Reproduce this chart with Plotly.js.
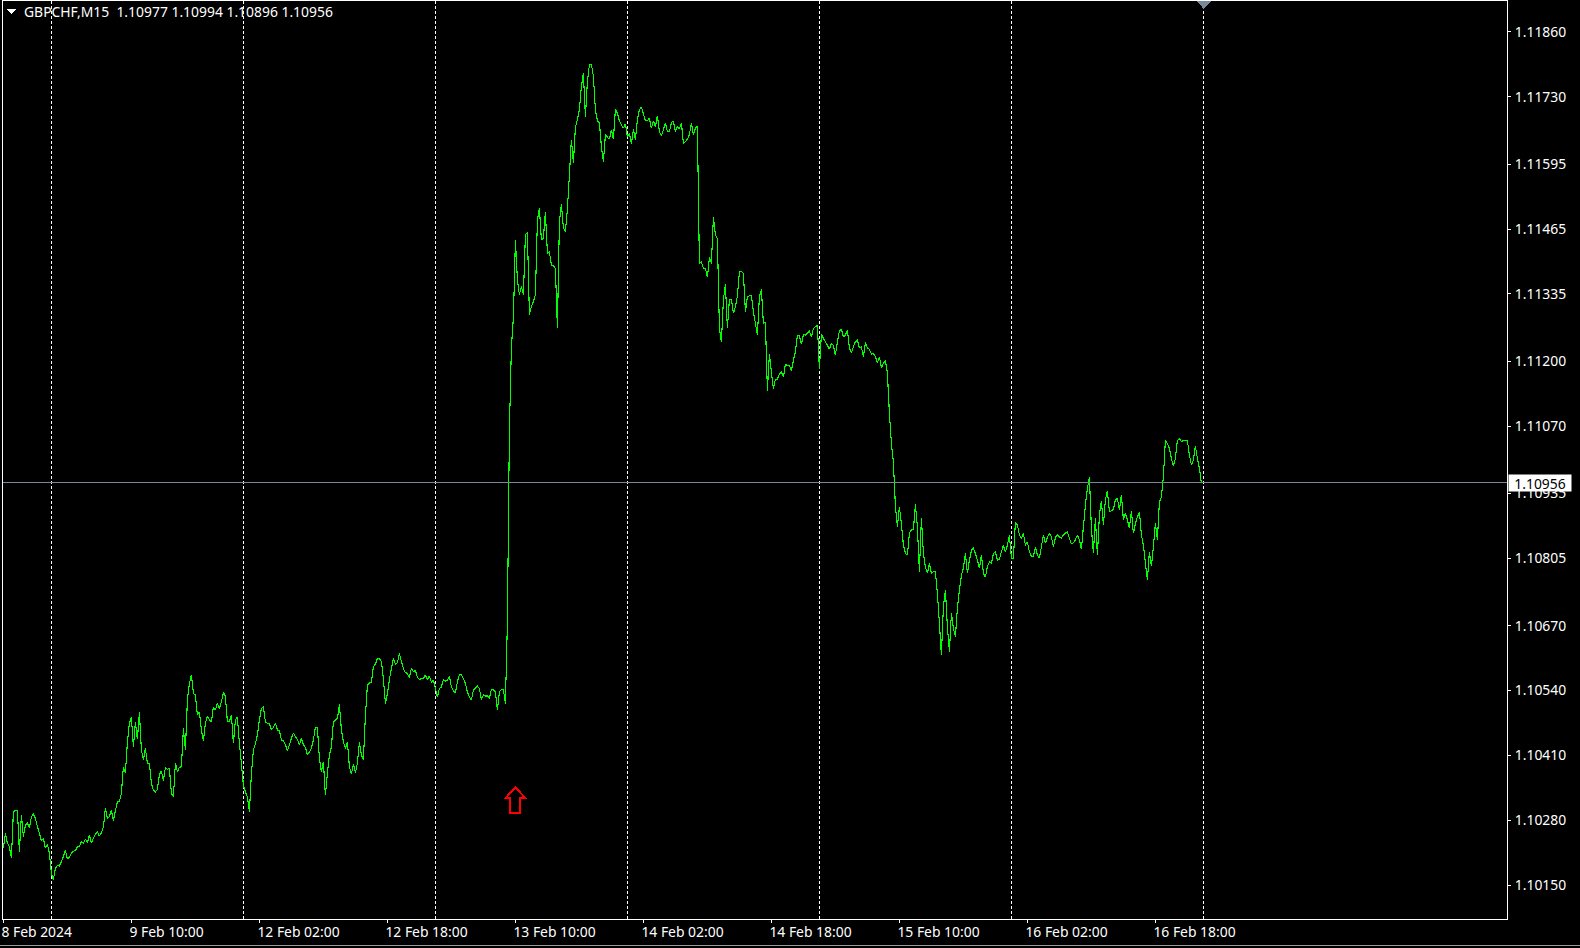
<!DOCTYPE html>
<html>
<head>
<meta charset="utf-8">
<title>GBPCHF,M15</title>
<script src="https://cdn.plot.ly/plotly-3.0.1.min.js"></script>
<style>
html,body{margin:0;padding:0;background:#000;overflow:hidden}
#chart{width:1580px;height:948px}
.crispLines path.js-line,.crispLines .shapelayer path,.crispLines path.crisp{shape-rendering:crispEdges}
</style>
</head>
<body>
<div id="chart" class="crispLines"></div>
<script>
const headerText = "GBPCHF,M15  1.10977 1.10994 1.10896 1.10956";
const bidPrice = 1.10956;
const bidLabel = "1.10956";
const priceTickLabels = ["1.11860","1.11730","1.11595","1.11465","1.11335","1.11200","1.11070","1.10935","1.10805","1.10670","1.10540","1.10410","1.10280","1.10150"];
const timeTickBars = [0,64,128,192,256,320,384,448,512,576];
const timeTickLabels = ["8 Feb 2024","9 Feb 10:00","12 Feb 02:00","12 Feb 18:00","13 Feb 10:00","14 Feb 02:00","14 Feb 18:00","15 Feb 10:00","16 Feb 02:00","16 Feb 18:00"];
const daySeparatorBars = [24,120,216,312,408,504,600];
const arrowBar = 256;
const arrowPrice = 1.10346;
const closes8Feb = [1.10224,1.10254,1.10234,1.10227,1.10204,1.10297,1.10300,1.10300,1.10217,1.10290,1.10247,1.10270,1.10275,1.10264,1.10287,1.10292,1.10284,1.10267,1.10254,1.10238,1.10244,1.10224,1.10232,1.10214];
const closes9Feb = [1.10173,1.10161,1.10184,1.10189,1.10188,1.10197,1.10207,1.10220,1.10202,1.10206,1.10214,1.10218,1.10219,1.10227,1.10228,1.10237,1.10234,1.10242,1.10235,1.10250,1.10234,1.10244,1.10252,1.10257,1.10248,1.10255,1.10266,1.10304,1.10284,1.10287,1.10300,1.10279,1.10299,1.10317,1.10317,1.10334,1.10387,1.10374,1.10437,1.10474,1.10487,1.10426,1.10477,1.10442,1.10496,1.10421,1.10401,1.10424,1.10394,1.10394,1.10354,1.10340,1.10337,1.10342,1.10371,1.10379,1.10359,1.10386,1.10382,1.10384,1.10334,1.10327,1.10395,1.10377,1.10386,1.10387,1.10464,1.10421,1.10521,1.10554,1.10571,1.10534,1.10531,1.10491,1.10497,1.10461,1.10439,1.10474,1.10489,1.10481,1.10477,1.10507,1.10501,1.10514,1.10504,1.10517,1.10536,1.10528,1.10477,1.10477,1.10491,1.10434,1.10481,1.10487,1.10434,1.10394];
const closes12Feb = [1.10350,1.10337,1.10327,1.10297,1.10374,1.10421,1.10433,1.10451,1.10481,1.10504,1.10507,1.10477,1.10474,1.10474,1.10461,1.10466,1.10475,1.10461,1.10459,1.10441,1.10439,1.10431,1.10419,1.10431,1.10444,1.10455,1.10447,1.10442,1.10431,1.10444,1.10431,1.10426,1.10411,1.10417,1.10424,1.10441,1.10466,1.10466,1.10404,1.10377,1.10397,1.10330,1.10374,1.10411,1.10427,1.10477,1.10481,1.10484,1.10512,1.10461,1.10437,1.10424,1.10437,1.10387,1.10372,1.10393,1.10375,1.10394,1.10436,1.10411,1.10401,1.10489,1.10551,1.10555,1.10557,1.10588,1.10593,1.10604,1.10604,1.10598,1.10564,1.10514,1.10534,1.10562,1.10584,1.10604,1.10593,1.10596,1.10614,1.10598,1.10584,1.10576,1.10574,1.10566,1.10584,1.10578,1.10580,1.10566,1.10562,1.10564,1.10564,1.10571,1.10562,1.10569,1.10557,1.10561];
const closes13Feb = [1.10544,1.10527,1.10544,1.10547,1.10562,1.10559,1.10561,1.10569,1.10547,1.10539,1.10536,1.10557,1.10572,1.10571,1.10564,1.10554,1.10537,1.10527,1.10521,1.10541,1.10544,1.10549,1.10544,1.10522,1.10531,1.10529,1.10529,1.10524,1.10542,1.10541,1.10537,1.10502,1.10537,1.10542,1.10541,1.10514,1.10677,1.11062,1.11228,1.11288,1.11443,1.11363,1.11333,1.11350,1.11333,1.11453,1.11458,1.11293,1.11310,1.11320,1.11333,1.11483,1.11507,1.11443,1.11447,1.11499,1.11417,1.11419,1.11393,1.11391,1.11386,1.11266,1.11478,1.11515,1.11467,1.11460,1.11505,1.11573,1.11644,1.11597,1.11669,1.11684,1.11704,1.11751,1.11777,1.11690,1.11761,1.11794,1.11795,1.11771,1.11704,1.11682,1.11678,1.11630,1.11600,1.11654,1.11649,1.11645,1.11664,1.11645,1.11705,1.11697,1.11682,1.11674,1.11667,1.11676];
const closes14Feb = [1.11650,1.11657,1.11635,1.11665,1.11644,1.11684,1.11704,1.11710,1.11696,1.11682,1.11682,1.11687,1.11667,1.11682,1.11670,1.11692,1.11660,1.11652,1.11664,1.11678,1.11660,1.11660,1.11678,1.11682,1.11660,1.11670,1.11665,1.11678,1.11637,1.11640,1.11645,1.11654,1.11677,1.11654,1.11667,1.11672,1.11396,1.11399,1.11386,1.11386,1.11368,1.11408,1.11396,1.11488,1.11453,1.11446,1.11266,1.11239,1.11323,1.11355,1.11266,1.11324,1.11324,1.11296,1.11309,1.11331,1.11379,1.11380,1.11376,1.11299,1.11329,1.11331,1.11331,1.11299,1.11276,1.11252,1.11329,1.11344,1.11276,1.11279,1.11141,1.11214,1.11179,1.11144,1.11164,1.11164,1.11174,1.11178,1.11168,1.11194,1.11191,1.11192,1.11181,1.11202,1.11219,1.11252,1.11251,1.11234,1.11254,1.11252,1.11256,1.11260,1.11248,1.11266,1.11269,1.11272];
const closes15Feb = [1.11184,1.11254,1.11246,1.11239,1.11232,1.11224,1.11236,1.11231,1.11212,1.11239,1.11261,1.11264,1.11249,1.11252,1.11262,1.11226,1.11217,1.11229,1.11239,1.11242,1.11227,1.11229,1.11208,1.11238,1.11226,1.11224,1.11214,1.11216,1.11209,1.11196,1.11209,1.11187,1.11196,1.11202,1.11176,1.11096,1.11035,1.10998,1.10910,1.10868,1.10908,1.10875,1.10831,1.10815,1.10811,1.10855,1.10862,1.10862,1.10913,1.10868,1.10778,1.10886,1.10815,1.10788,1.10775,1.10795,1.10775,1.10778,1.10778,1.10735,1.10675,1.10611,1.10708,1.10741,1.10668,1.10618,1.10695,1.10664,1.10648,1.10705,1.10741,1.10771,1.10785,1.10815,1.10775,1.10801,1.10821,1.10825,1.10815,1.10801,1.10785,1.10811,1.10775,1.10767,1.10788,1.10798,1.10795,1.10815,1.10818,1.10801,1.10803,1.10818,1.10831,1.10818,1.10831,1.10852];
const closes16Feb = [1.10805,1.10805,1.10877,1.10872,1.10852,1.10845,1.10855,1.10831,1.10838,1.10818,1.10809,1.10809,1.10827,1.10811,1.10805,1.10828,1.10852,1.10835,1.10847,1.10855,1.10848,1.10828,1.10847,1.10852,1.10848,1.10845,1.10852,1.10856,1.10858,1.10845,1.10834,1.10836,1.10842,1.10852,1.10842,1.10823,1.10868,1.10912,1.10945,1.10968,1.10865,1.10816,1.10885,1.10811,1.10892,1.10920,1.10872,1.10922,1.10940,1.10898,1.10900,1.10903,1.10922,1.10925,1.10902,1.10932,1.10882,1.10895,1.10882,1.10865,1.10900,1.10855,1.10875,1.10888,1.10898,1.10852,1.10831,1.10795,1.10761,1.10818,1.10789,1.10828,1.10875,1.10842,1.10918,1.10928,1.10968,1.11042,1.11035,1.11025,1.11005,1.10990,1.11005,1.11041,1.11045,1.11039,1.11041,1.11041,1.11041,1.11012,1.10992,1.11002,1.11030,1.11005,1.10985,1.10956];

const closes = [].concat(closes8Feb,closes9Feb,closes12Feb,closes13Feb,closes14Feb,closes15Feb,closes16Feb);
const bars = closes.map((_,i)=>i);

const W=1580,H=948,L=3,R=73,T=1,B=29;
const plotW=W-L-R, plotH=H-T-B;
const font={family:'"Noto Sans",sans-serif',size:13.9,color:'#ffffff'};

const shapes=[];
daySeparatorBars.forEach(b=>shapes.push({type:'line',layer:'below',xref:'x',yref:'paper',x0:b,x1:b,y0:0,y1:1,
  line:{color:'#ffffff',width:1,dash:'3px,2px'}}));
shapes.push({type:'line',layer:'above',xref:'paper',yref:'y',x0:0,x1:1,y0:bidPrice,y1:bidPrice,line:{color:'#778899',width:1}});
shapes.push({type:'path',layer:'above',xref:'x',yref:'y',xsizemode:'pixel',ysizemode:'pixel',xanchor:arrowBar,yanchor:arrowPrice,
  path:'M0,0 L10,-11 L5,-11 L5,-26 L-5,-26 L-5,-11 L-10,-11 Z',line:{color:'#ff0000',width:2},fillcolor:'rgba(0,0,0,0)'});
shapes.push({type:'path',layer:'above',xref:'x',yref:'paper',xsizemode:'pixel',ysizemode:'pixel',xanchor:daySeparatorBars[6],yanchor:1,
  path:'M-7,0 L8,0 L0.5,-8 Z',line:{width:0},fillcolor:'#778899'});
shapes.push({type:'path',layer:'above',xref:'paper',yref:'paper',xsizemode:'pixel',ysizemode:'pixel',xanchor:(7-L)/plotW,yanchor:1-(9-T)/plotH,
  path:'M0,0 L9,0 L4.5,-5 Z',line:{width:0},fillcolor:'#ffffff'});
shapes.push({type:'line',layer:'above',xref:'paper',yref:'paper',x0:-L/plotW,x1:(W-L)/plotW,y0:-(945-T-plotH)/plotH,y1:-(945-T-plotH)/plotH,line:{color:'#9a9a9a',width:1}});

const annotations=[
 {xref:'paper',yref:'paper',x:(22.5-L)/plotW,y:1-(12-T)/plotH,xanchor:'left',yanchor:'middle',showarrow:false,text:headerText.replace(/ /g,'\u00a0'),font:font,borderpad:0},
 {xref:'paper',yref:'y',x:(1508-L)/plotW,y:bidPrice,xanchor:'left',yanchor:'middle',showarrow:false,text:bidLabel,
  font:{family:font.family,size:font.size,color:'#000000'},bgcolor:'#ffffff',width:62,height:16,align:'center',borderpad:0}
];

Plotly.newPlot('chart',[{
  type:'scatter',mode:'lines',x:bars,y:closes,
  line:{color:'#00ff00',width:1.1,simplify:false,shape:'linear'},hoverinfo:'skip'
}],{
  width:W,height:H,
  margin:{l:L,r:R,t:T,b:B,pad:0},
  paper_bgcolor:'#000000',plot_bgcolor:'#000000',font:font,showlegend:false,
  xaxis:{range:[-0.2,751.8],tickmode:'array',tickvals:timeTickBars,ticktext:timeTickLabels,
    showgrid:false,zeroline:false,showline:true,mirror:true,linecolor:'#ffffff',linewidth:1,
    ticks:'outside',ticklen:3,tickwidth:1,tickcolor:'#ffffff',ticklabelposition:'outside right',ticklabelshift:-3,ticklabelstandoff:0,tickfont:font,tickangle:0,automargin:false},
  yaxis:{range:[1.10082,1.11922],side:'right',tickmode:'array',tickvals:priceTickLabels.map(Number),ticktext:priceTickLabels,
    showgrid:false,zeroline:false,showline:true,mirror:true,linecolor:'#ffffff',linewidth:1,
    ticks:'outside',ticklen:3,tickwidth:1,tickcolor:'#ffffff',ticklabelstandoff:1,tickfont:font,automargin:false},
  shapes:shapes,annotations:annotations
},{staticPlot:true,displayModeBar:false,responsive:false});
</script>
</body>
</html>
